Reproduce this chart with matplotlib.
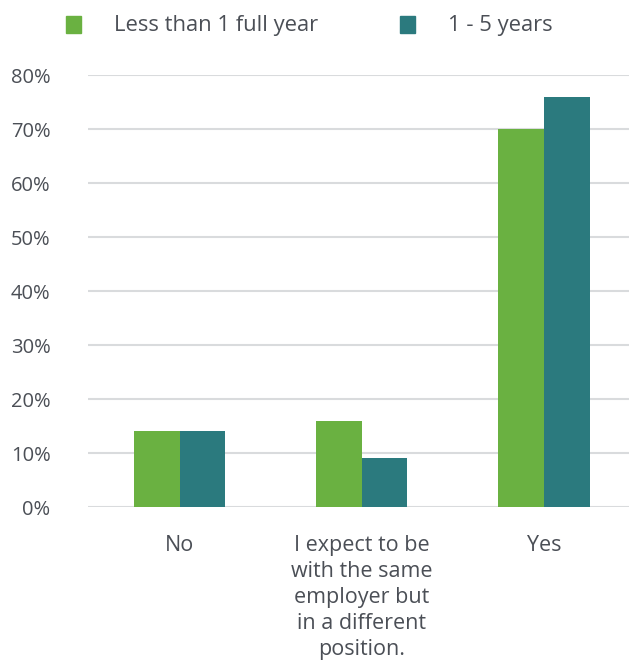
import numpy as np
import matplotlib.pyplot as plt
from matplotlib.patches import Rectangle

categories = ["No", "I expect to be\nwith the same\nemployer but\nin a different\nposition.", "Yes"]
less_than_1 = [14, 16, 70]
one_to_5 = [14, 9, 76]
series_names = ["Less than 1 full year", "1 - 5 years"]
colors = ["#6ab141", "#2b7a7e"]
yticks = [0, 10, 20, 30, 40, 50, 60, 70, 80]

plt.rcParams['font.family'] = ['Open Sans', 'DejaVu Sans']
text_color = "#4b4f56"

fig = plt.figure(figsize=(6.29, 6.60), dpi=100)
ax = fig.add_axes([0.14, 0.2318, 0.86, 0.6545])

x = np.arange(len(categories))
w = 0.25
ax.bar(x - w / 2, less_than_1, w, color=colors[0], zorder=3)
ax.bar(x + w / 2, one_to_5, w, color=colors[1], zorder=3)

ax.set_ylim(0, 80)
ax.set_xlim(-0.505, 2.467)
ax.set_yticks(yticks)
ax.set_yticklabels([f"{v}%" for v in yticks])
ax.yaxis.grid(True, color="#d9dbdd", linewidth=1.5, zorder=0)
ax.set_xticks(x)
ax.set_xticklabels(categories, linespacing=1.31)
for s in ax.spines.values():
    s.set_visible(False)
ax.tick_params(axis='both', length=0, colors=text_color)
ax.tick_params(axis='y', pad=27, labelsize=14.5)
ax.tick_params(axis='x', pad=20, labelsize=15.5)

# legend
W, H = 629, 660
for (sx, tx), name, c in zip([(66, 114), (400, 448)], series_names, colors):
    fig.add_artist(Rectangle((sx / W, 1 - 33 / H), 15 / W, 17 / H,
                             transform=fig.transFigure, color=c))
    fig.text(tx / W, 1 - 25 / H, name, fontsize=15.8, color=text_color, va='center', ha='left')

fig.savefig("out.png", dpi=100)
